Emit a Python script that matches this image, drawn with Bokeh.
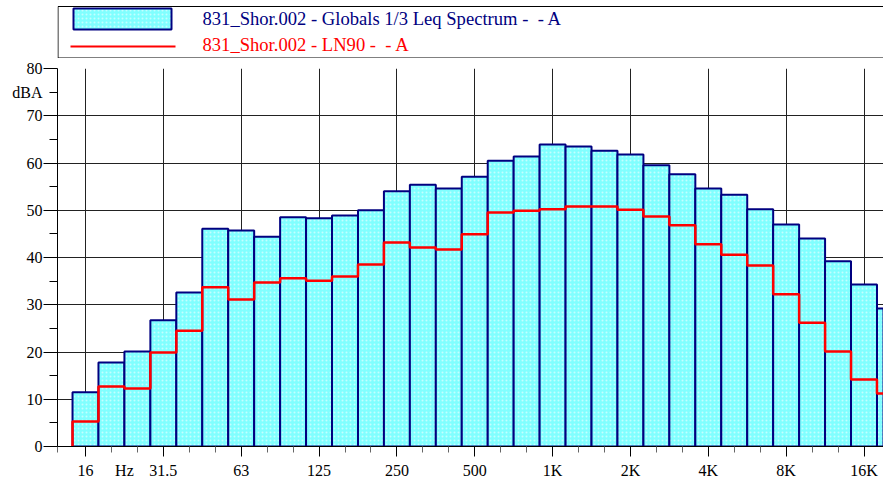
from bokeh.plotting import figure
from bokeh.layouts import column
from bokeh.models import Range1d, FixedTicker, LinearAxis, Grid
from bokeh.core.properties import value
from bokeh.embed import file_html
from bokeh.resources import INLINE
import numpy as np

# ---- data ----
bands = ["16", "20", "25", "31.5", "40", "50", "63", "80", "100", "125", "160", "200",
         "250", "315", "400", "500", "630", "800", "1K", "1.25K", "1.6K", "2K", "2.5K",
         "3.15K", "4K", "5K", "6.3K", "8K", "10K", "12.5K", "16K", "20K"]
leq = [11.5, 17.8, 20.1, 26.7, 32.6, 46.1, 45.7, 44.4, 48.5, 48.3, 48.9, 50.0,
       54.0, 55.4, 54.6, 57.1, 60.5, 61.4, 63.9, 63.5, 62.6, 61.8, 59.5,
       57.6, 54.6, 53.3, 50.2, 47.0, 44.0, 39.2, 34.3, 29.2]
ln90 = [5.3, 12.7, 12.3, 19.9, 24.5, 33.7, 31.1, 34.7, 35.6, 35.1, 36.0, 38.5,
        43.2, 42.1, 41.7, 44.9, 49.5, 49.9, 50.2, 50.8, 50.8, 50.1, 48.7,
        46.8, 42.8, 40.6, 38.3, 32.2, 26.2, 20.1, 14.2, 11.2]
x_tick_labels = ["16", "31.5", "63", "125", "250", "500", "1K", "2K", "4K", "8K", "16K"]
y_ticks = [0, 10, 20, 30, 40, 50, 60, 70, 80]
y_unit = "dBA"
x_unit = "Hz"
legend_labels = ["831_Shor.002 - Globals 1/3 Leq Spectrum -  - A",
                 "831_Shor.002 - LN90 -  - A"]

FONT = "Liberation Serif"
NAVY = "#000080"
RED = "#ff0000"
W, H = 883, 483
LEG_H = 58
FRAME_LEFT = 57

idx = np.arange(len(bands))
major_idx = [bands.index(l) for l in x_tick_labels]
minor_idx = [int(i) for i in idx if i not in major_idx]

def keep_spaces(s):
    return s.replace("  ", "\u00a0 ")

# ---- legend figure (frame aligned with the chart frame; data units = page px) ----
lg = figure(width=W, height=LEG_H, x_range=Range1d(FRAME_LEFT, W), y_range=Range1d(LEG_H, 0),
            output_backend="svg", toolbar_location=None,
            x_axis_location=None, y_axis_location=None,
            min_border_left=FRAME_LEFT, min_border_right=0, min_border_top=0, min_border_bottom=0)
lg.grid.visible = False
lg.outline_line_color = None
lg.quad(left=[FRAME_LEFT + 0.5], right=[W + 20], top=[6], bottom=[57.5], fill_color="white",
        line_color="black", line_width=1)
lg.quad(left=[73], right=[171], top=[8], bottom=[29], fill_color="#80ffff",
        line_color=NAVY, line_width=2, hatch_pattern="dot", hatch_color="#c4ffff",
        hatch_scale=4, hatch_weight=1)
lg.line(x=[70, 175], y=[46, 46], line_color=RED, line_width=2)
lg.text(x=[202], y=[17.5], text=[keep_spaces(legend_labels[0])], text_color=NAVY,
        text_font=value(FONT), text_font_size="18.6px", text_baseline="middle")
lg.text(x=[202], y=[43.5], text=[keep_spaces(legend_labels[1])], text_color=RED,
        text_font=value(FONT), text_font_size="18.6px", text_baseline="middle")

# ---- chart figure ----
px_per_band = 25.95
x0 = -(85 - FRAME_LEFT) / px_per_band
x1 = x0 + (W - FRAME_LEFT) / px_per_band
p = figure(width=W, height=H - LEG_H, x_range=Range1d(x0, x1), y_range=Range1d(0, 80),
           output_backend="svg", toolbar_location=None,
           x_axis_location=None, y_axis_location=None,
           min_border_left=FRAME_LEFT, min_border_right=0, min_border_top=68 - LEG_H,
           min_border_bottom=H - 446)
p.outline_line_color = None

p.vbar(x=idx, width=1, top=leq, bottom=0, fill_color="#80ffff", line_color=NAVY,
       line_width=2, hatch_pattern="dot", hatch_color="#c4ffff", hatch_scale=4,
       hatch_weight=1)

# LN90 as a stepped band line
xs = [idx[0] - 0.5]
ys = [0.0]
for i, v in zip(idx, ln90):
    xs += [i - 0.5, i + 0.5]
    ys += [v, v]
p.line(x=xs, y=ys, line_color=RED, line_width=2.5)

# x axis: ticks only (nearest the frame)
xa = LinearAxis(ticker=FixedTicker(ticks=major_idx, minor_ticks=[x0 + 0.01] + minor_idx))
xa.major_label_overrides = {int(i): "" for i in major_idx}
xa.major_label_text_font_size = "0px"
xa.major_label_standoff = 0
xa.major_tick_out = 10
xa.major_tick_in = 0
xa.minor_tick_out = 6
xa.minor_tick_in = 0
xa.minor_tick_line_color = "#666666"
xa.major_tick_line_color = "black"
xa.axis_line_color = "black"
p.add_layout(xa, "below")

# x axis: labels only
hz_pos = 1.5
xl = LinearAxis(ticker=FixedTicker(ticks=major_idx + [hz_pos], minor_ticks=[]))
ov = {int(i): l for i, l in zip(major_idx, x_tick_labels)}
ov[hz_pos] = x_unit
xl.major_label_overrides = ov
xl.axis_line_color = None
xl.major_tick_line_color = None
xl.minor_tick_line_color = None
xl.major_tick_out = 0
xl.major_tick_in = 0
xl.major_label_standoff = 5
xl.major_label_text_font = FONT
xl.major_label_text_font_size = "16px"
xl.major_label_text_color = "black"
p.add_layout(xl, "below")

# y axis: ticks only
ya = LinearAxis(ticker=FixedTicker(ticks=y_ticks, minor_ticks=[t + 5 for t in y_ticks[:-1]]))
ya.major_label_overrides = {t: "" for t in y_ticks}
ya.major_label_text_font_size = "0px"
ya.major_label_standoff = 0
ya.major_tick_out = 14
ya.major_tick_in = 0
ya.minor_tick_out = 8
ya.minor_tick_in = 0
ya.minor_tick_line_color = "black"
ya.major_tick_line_color = "black"
ya.axis_line_color = "black"
p.add_layout(ya, "left")

# y axis: labels only
yl = LinearAxis(ticker=FixedTicker(ticks=y_ticks + [75], minor_ticks=[]))
yl.major_label_overrides = {75: y_unit}
yl.axis_line_color = None
yl.major_tick_line_color = None
yl.minor_tick_line_color = None
yl.major_tick_out = 0
yl.major_tick_in = 0
yl.major_label_standoff = 1
yl.major_label_text_font = FONT
yl.major_label_text_font_size = "16px"
yl.major_label_text_color = "black"
p.add_layout(yl, "left")

p.xgrid.visible = False
p.ygrid.visible = False
p.add_layout(Grid(dimension=0, ticker=FixedTicker(ticks=major_idx),
                  grid_line_color="#222222", grid_line_width=1))
p.add_layout(Grid(dimension=1, ticker=FixedTicker(ticks=y_ticks),
                  grid_line_color="#222222", grid_line_width=1))

layout = column(lg, p, spacing=0)
open("out.html", "w").write(file_html(layout, INLINE))
